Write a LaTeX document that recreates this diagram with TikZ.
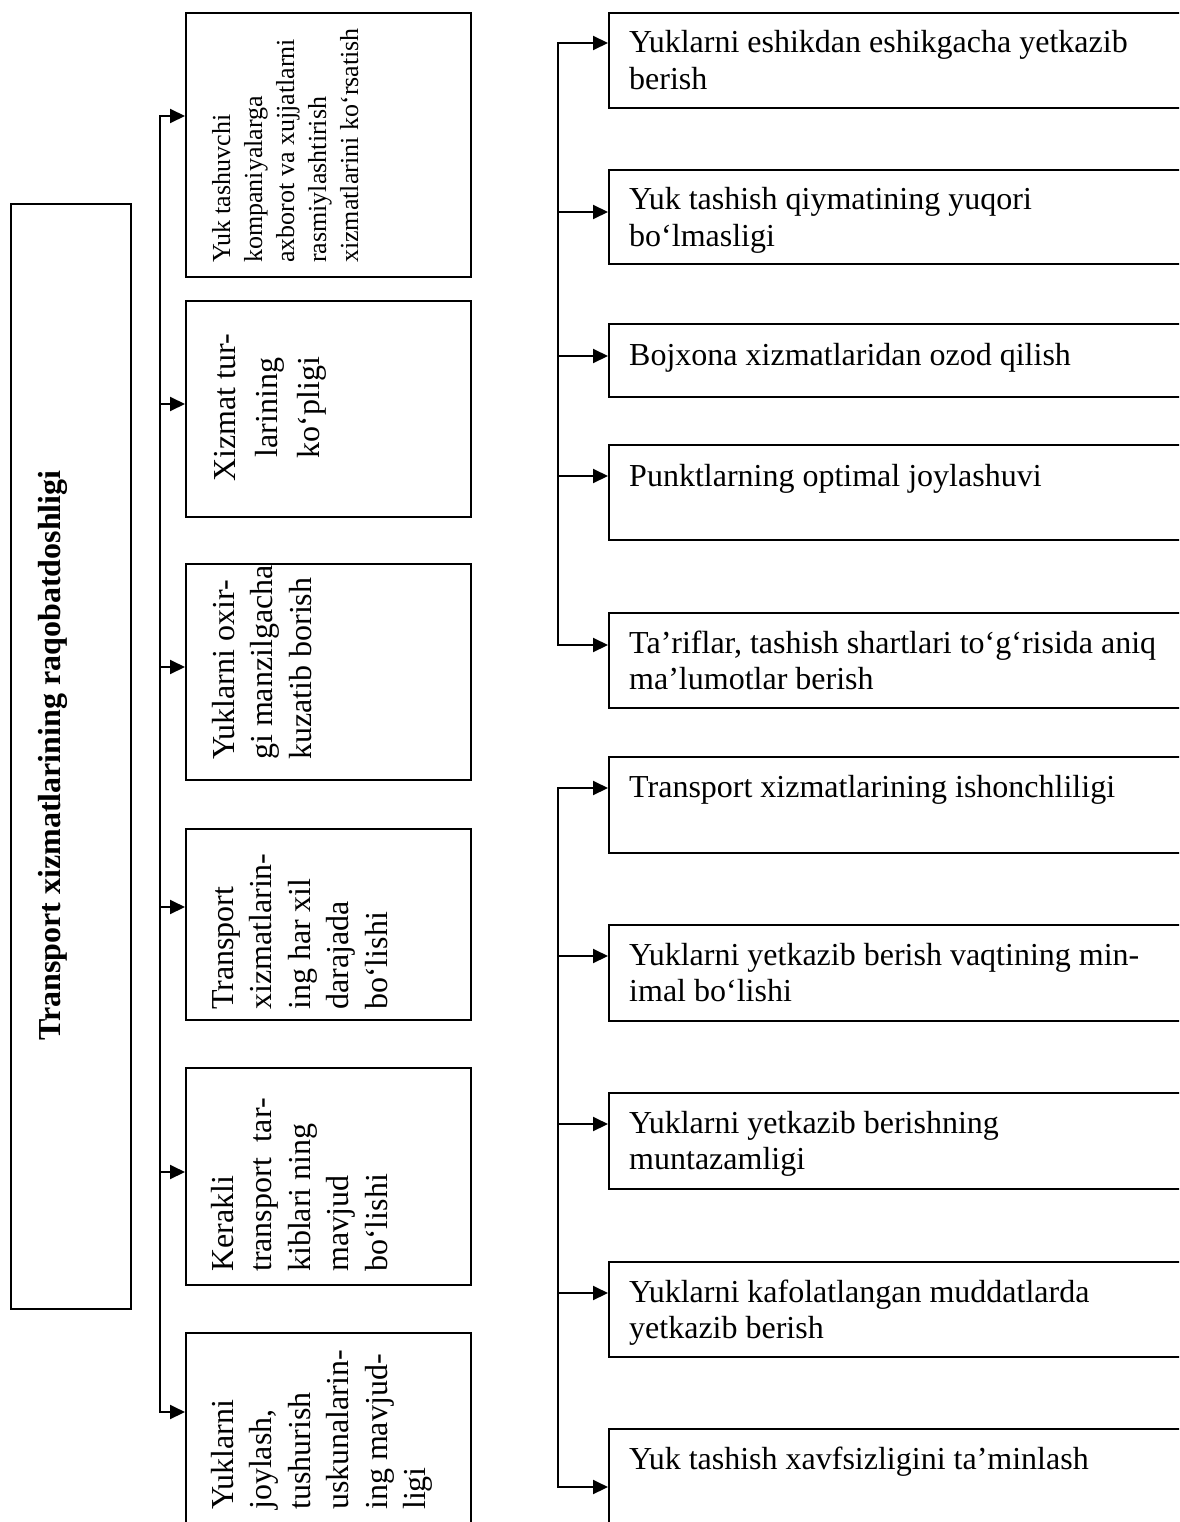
\documentclass[tikz,border=0pt]{standalone}
\usepackage{fontspec}
\setmainfont{Liberation Serif}
\usetikzlibrary{arrows.meta,calc}

\begin{document}
\begin{tikzpicture}[x=1pt,y=-1pt,
  box/.style={draw=black,line width=2pt,rectangle,inner sep=0pt,anchor=north west},
  arr/.style={line width=2pt,-{Triangle[length=15pt,width=14pt]}},
  arr2/.style={line width=2pt,line join=miter,{Triangle[length=15pt,width=14pt]}-{Triangle[length=15pt,width=14pt]}},
  % the base anchor of a multi-line text is the baseline of its last line
  rtext/.style={anchor=base west,inner sep=0pt,align=left,font=\fontsize{32}{36.5}\selectfont},
  vtext/.style={rotate=90,anchor=base west,inner sep=0pt,align=left,font=\fontsize{32}{38.5}\selectfont},
]
\useasboundingbox (0,0) rectangle (1179,1522);
\clip (0,0) rectangle (1179,1522);

% main box
\node[box,minimum width=120pt,minimum height=1105pt] (main) at (10,203) {};
\node[rotate=90,anchor=base,inner sep=0pt,font=\fontsize{32}{38}\selectfont\bfseries]
  (maint) at (60,755.5) {Transport xizmatlarining raqobatdoshligi};

% middle column
\node[box,minimum width=285pt,minimum height=264pt] (m1) at (185,12) {};
\node[box,minimum width=285pt,minimum height=216pt] (m2) at (185,300) {};
\node[box,minimum width=285pt,minimum height=216pt] (m3) at (185,563) {};
\node[box,minimum width=285pt,minimum height=191pt] (m4) at (185,828) {};
\node[box,minimum width=285pt,minimum height=217pt] (m5) at (185,1067) {};
\node[box,minimum width=285pt,minimum height=230pt] (m6) at (185,1332) {};

\node[vtext,font=\fontsize{26}{32}\selectfont] (m1t) at (358,263)
  {Yuk tashuvchi\\kompaniyalarga\\axborot va xujjatlarni\\rasmiylashtirish\\xizmatlarini ko‘rsatish};
\node[vtext,anchor=base,align=center,font=\fontsize{32}{42}\selectfont] (m2t) at (319,407.5)
  {Xizmat tur-\\larining\\ko‘pligi};
\node[vtext] (m3t) at (311,760) {Yuklarni oxir-\\gi manzilgacha\\kuzatib borish};
\node[vtext] (m4t) at (387,1010) {Transport\\xizmatlarin-\\ing har xil\\darajada\\bo‘lishi};
\node[vtext] (m5t) at (387,1272) {Kerakli\\transport~ tar-\\kiblari ning\\mavjud\\bo‘lishi};
\node[vtext] (m6t) at (425.5,1510) {Yuklarni\\joylash,\\tushurish\\uskunalarin-\\ing mavjud-\\ligi};

% right column
\node[box,minimum width=600pt,minimum height=95pt] (r1) at (608,12) {};
\node[box,minimum width=600pt,minimum height=94pt] (r2) at (608,169) {};
\node[box,minimum width=600pt,minimum height=73pt] (r3) at (608,323) {};
\node[box,minimum width=600pt,minimum height=95pt] (r4) at (608,444) {};
\node[box,minimum width=600pt,minimum height=95pt] (r5) at (608,612) {};
\node[box,minimum width=600pt,minimum height=96pt] (r6) at (608,756) {};
\node[box,minimum width=600pt,minimum height=96pt] (r7) at (608,924) {};
\node[box,minimum width=600pt,minimum height=96pt] (r8) at (608,1092) {};
\node[box,minimum width=600pt,minimum height=95pt] (r9) at (608,1261) {};
\node[box,minimum width=600pt,minimum height=130pt] (r10) at (608,1428) {};

\node[rtext] (r1t) at ($(r1.north west)+(21,77.5)$) {Yuklarni eshikdan eshikgacha yetkazib\\berish};
\node[rtext] (r2t) at ($(r2.north west)+(21,77.5)$) {Yuk tashish qiymatining yuqori\\bo‘lmasligi};
\node[rtext] (r3t) at ($(r3.north west)+(21,42)$) {Bojxona xizmatlaridan ozod qilish};
\node[rtext] (r4t) at ($(r4.north west)+(21,42)$) {Punktlarning optimal joylashuvi};
\node[rtext] (r5t) at ($(r5.north west)+(21,77.5)$) {Ta’riflar, tashish shartlari to‘g‘risida aniq\\ma’lumotlar berish};
\node[rtext] (r6t) at ($(r6.north west)+(21,41)$) {Transport xizmatlarining ishonchliligi};
\node[rtext] (r7t) at ($(r7.north west)+(21,77.5)$) {Yuklarni yetkazib berish vaqtining min-\\imal bo‘lishi};
\node[rtext] (r8t) at ($(r8.north west)+(21,77.5)$) {Yuklarni yetkazib berishning\\muntazamligi};
\node[rtext] (r9t) at ($(r9.north west)+(21,77.5)$) {Yuklarni kafolatlangan muddatlarda\\yetkazib berish};
\node[rtext] (r10t) at ($(r10.north west)+(21,41)$) {Yuk tashish xavfsizligini ta’minlash};

% branch points on the trunks
\coordinate (m1s) at (160,116);
\coordinate (m2s) at (160,404);
\coordinate (m3s) at (160,667);
\coordinate (m4s) at (160,907);
\coordinate (m5s) at (160,1172);
\coordinate (m6s) at (160,1412);

\coordinate (r1s) at (558,43);
\coordinate (r2s) at (558,212);
\coordinate (r3s) at (558,356);
\coordinate (r4s) at (558,476);
\coordinate (r5s) at (558,645);
\coordinate (r6s) at (558,788);
\coordinate (r7s) at (558,956);
\coordinate (r8s) at (558,1124);
\coordinate (r9s) at (558,1293);
\coordinate (r10s) at (558,1487);

% trunks with their end branches
\draw[arr2] (m1s -| m1.west) -- (m1s) -- (m6s) -- (m6s -| m6.west);
\draw[arr2] (r1s -| r1.west) -- (r1s) -- (r5s) -- (r5s -| r5.west);
\draw[arr2] (r6s -| r6.west) -- (r6s) -- (r10s) -- (r10s -| r10.west);

% inner branches
\foreach \i in {2,3,4,5} {
  \draw[arr] (m\i s) -- (m\i s -| m\i.west);
}
\foreach \i in {2,3,4,7,8,9} {
  \draw[arr] (r\i s) -- (r\i s -| r\i.west);
}
\end{tikzpicture}
\end{document}
